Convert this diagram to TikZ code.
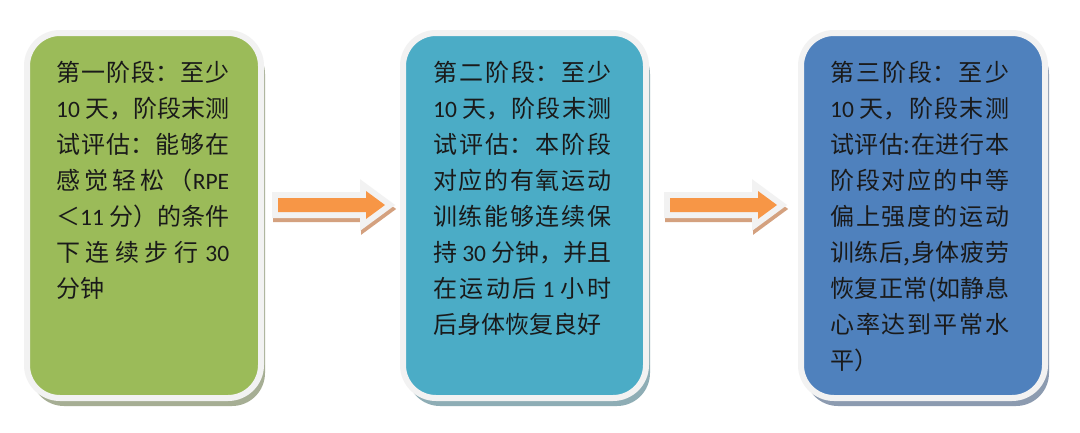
\documentclass[tikz,border=0pt]{standalone}
\usepackage{fontspec}
\setmainfont{Noto Sans CJK SC}
\newfontfamily\lat{Carlito}
\usetikzlibrary{shadows}
\definecolor{boxA}{HTML}{9BBB59}
\definecolor{boxB}{HTML}{4BACC6}
\definecolor{boxC}{HTML}{4F81BD}
\definecolor{shA}{HTML}{A6AE94}
\definecolor{shB}{HTML}{8EADB5}
\definecolor{shC}{HTML}{8C9BB0}
\definecolor{edge}{HTML}{F2F2F2}
\definecolor{arrowfill}{HTML}{F79646}
\definecolor{arrowshade}{HTML}{D4A17F}
\definecolor{inktext}{HTML}{1A1A1A}
\newcommand\nm[1]{{\lat\fontsize{23.5pt}{36pt}\selectfont #1}}
\newcommand\stagetext[2]{\parbox[t]{#1}{\XeTeXlinebreaklocale "zh"\XeTeXlinebreakskip=0pt plus 8pt\relax
  \tolerance=10000\emergencystretch=0pt\fontsize{24pt}{36pt}\selectfont #2}}
\tikzset{
  stagebox/.style={rectangle, rounded corners=33pt, line width=6pt, draw=edge,
    anchor=north west, inner sep=0pt, minimum height=365pt},
  txt/.style={anchor=base west, inner sep=0pt, text=inktext},
  blockarrow/.pic={
    \filldraw[arrowshade, line width=12pt, line join=miter, shift={(1,4)}]
      (0,-7) -- (88,-7) -- (88,-14) -- (107,0) -- (88,14) -- (88,7) -- (0,7) -- cycle;
    \draw[edge, line width=12pt, line join=miter]
      (0,-7) -- (88,-7) -- (88,-14) -- (107,0) -- (88,14) -- (88,7) -- (0,7) -- cycle;
    \fill[arrowfill]
      (0,-7) -- (88,-7) -- (88,-14) -- (107,0) -- (88,14) -- (88,7) -- (0,7) -- cycle;
  }
}
\begin{document}
\begin{tikzpicture}[x=1pt,y=-1pt]
\useasboundingbox (0,0) rectangle (1080,432);
\fill[white] (0,0) rectangle (1080,432);
\node[stagebox, fill=boxA, minimum width=234pt,
  general shadow={fill=shA, shadow xshift=4pt, shadow yshift=-8pt}] (s1) at (24,30) {};
\node[stagebox, fill=boxB, minimum width=243pt,
  general shadow={fill=shB, shadow xshift=4pt, shadow yshift=-8pt}] (s2) at (400,30) {};
\node[stagebox, fill=boxC, minimum width=244pt,
  general shadow={fill=shC, shadow xshift=4pt, shadow yshift=-8pt}] (s3) at (798,30) {};
\pic (a1) at (278,205) {blockarrow};
\pic (a2) at (670,205) {blockarrow};
\node[txt] (t1) at (56,81) {\stagetext{173pt}{%
第一阶段：至少\linebreak
\nm{10} 天，阶段末测\linebreak
试评估：能够在\linebreak
感觉轻松（\nm{RPE}\linebreak
＜\nm{11} 分）的条件\linebreak
下连续步行 \nm{30}\linebreak
分钟}};
\node[txt] (t2) at (433,81) {\stagetext{178pt}{%
第二阶段：至少\linebreak
\nm{10} 天，阶段末测\linebreak
试评估：本阶段\linebreak
对应的有氧运动\linebreak
训练能够连续保\linebreak
持 \nm{30} 分钟，并且\linebreak
在运动后 \nm{1} 小时\linebreak
后身体恢复良好}};
\node[txt] (t3) at (830,81) {\stagetext{179pt}{%
第三阶段：至少\linebreak
\nm{10} 天，阶段末测\linebreak
试评估:在进行本\linebreak
阶段对应的中等\linebreak
偏上强度的运动\linebreak
训练后,身体疲劳\linebreak
恢复正常(如静息\linebreak
心率达到平常水\linebreak
平）}};
\end{tikzpicture}
\end{document}
